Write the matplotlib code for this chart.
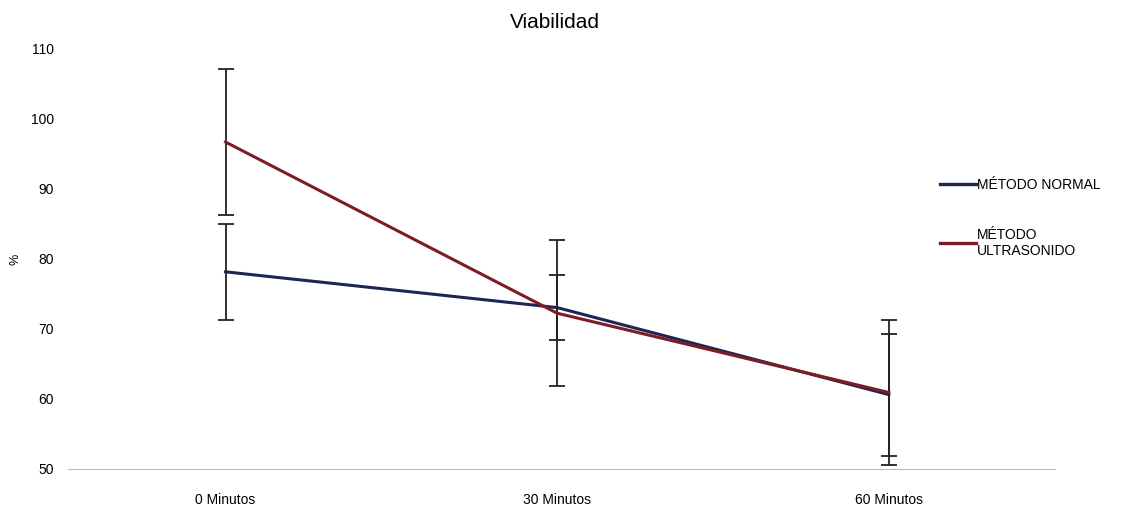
import matplotlib
matplotlib.use("Agg")
import matplotlib.pyplot as plt
from matplotlib.lines import Line2D

categories = ["0 Minutos", "30 Minutos", "60 Minutos"]
normal = [78.1, 73.0, 60.6]
normal_err = [6.8, 4.6, 8.7]
ultra = [96.6, 72.2, 60.9]
ultra_err = [10.4, 10.4, 10.4]
yticks = [50, 60, 70, 80, 90, 100, 110]
labels = ["MÉTODO NORMAL", "MÉTODO\nULTRASONIDO"]

plt.rcParams['font.family'] = ['Liberation Sans', 'DejaVu Sans']

fig = plt.figure(figsize=(11.28, 5.08), dpi=100)
ax = fig.add_axes([0.06, 0.0768, 0.875, 0.8287])

x = list(range(len(categories)))
navy = "#1c2553"
red = "#7d1c24"

ax.errorbar(x, normal, yerr=normal_err, color=navy, lw=2.2, ecolor="#222222",
            elinewidth=1.3, capsize=6, capthick=1.3, zorder=3)
ax.errorbar(x, ultra, yerr=ultra_err, color=red, lw=2.2, ecolor="#222222",
            elinewidth=1.3, capsize=6, capthick=1.3, zorder=4)

ax.set_xlim(-0.476, 2.5)
ax.set_ylim(50, 110)
ax.set_yticks(yticks)
ax.set_xticks(x)
ax.set_xticklabels(categories)
ax.tick_params(axis='both', length=0, labelsize=10)
ax.tick_params(axis='y', pad=10)
ax.tick_params(axis='x', pad=17)
for s in ['top', 'right', 'left']:
    ax.spines[s].set_visible(False)
ax.spines['bottom'].set_color("#bbbbbb")
ax.spines['bottom'].set_linewidth(0.8)

fig.text(0.014, 0.49, "%", rotation=90, fontsize=9, va='center', ha='center')
fig.text(0.492, 0.955, "Viabilidad", fontsize=15, ha='center', va='center')

handles = [Line2D([0], [0], color=navy, lw=2.4), Line2D([0], [0], color=red, lw=2.4)]
leg = fig.legend(handles, labels, loc='upper left', bbox_to_anchor=(0.822, 0.675), frameon=False,
                 fontsize=10, handlelength=2.6, handletextpad=0.1, labelspacing=2.6)

fig.savefig("out.png", dpi=100)
